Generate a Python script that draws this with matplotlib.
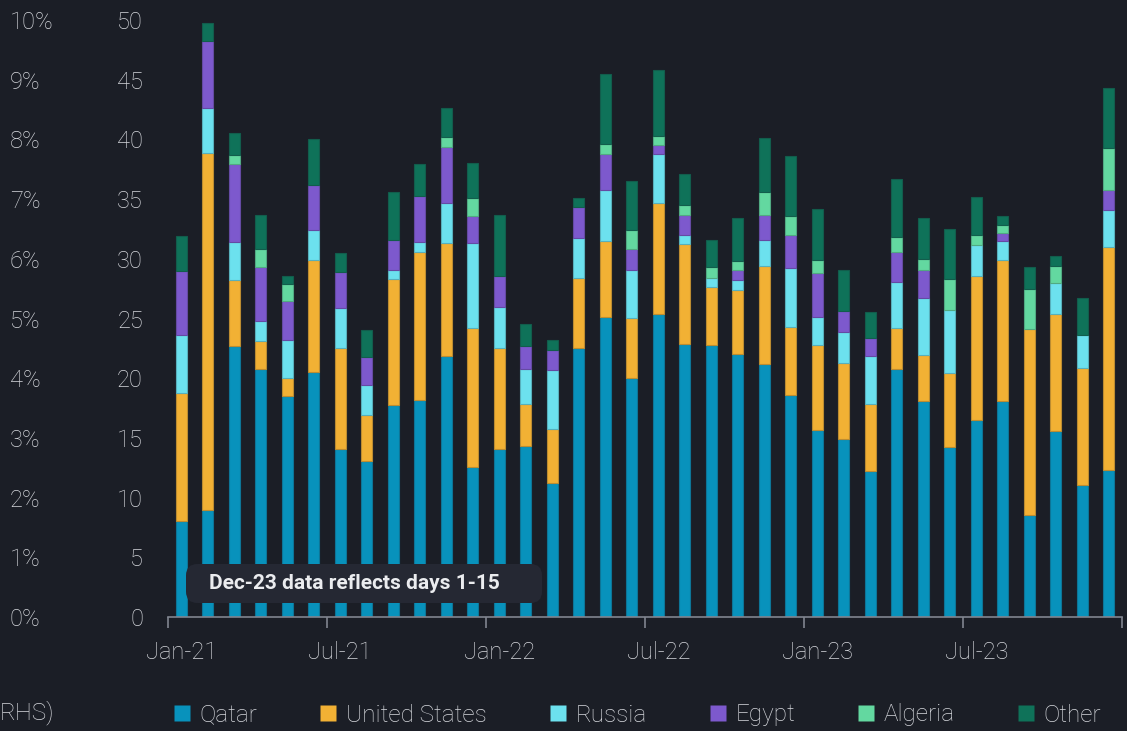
import numpy as np
import pandas as pd
import matplotlib
matplotlib.use('Agg')
import matplotlib.pyplot as plt
from matplotlib.lines import Line2D
from matplotlib.patches import FancyBboxPatch
from matplotlib.colors import to_rgb

# mesicni kategorie Jan-21 .. Dec-23
months = list(pd.date_range('2021-01-01', periods=36, freq='MS').strftime('%b-%y'))
tick_labels = ['Jan-21', 'Jul-21', 'Jan-22', 'Jul-22', 'Jan-23', 'Jul-23']

qatar = [8.0, 9.0, 22.7, 20.8, 18.5, 20.5, 14.1, 13.05, 17.75, 18.2, 21.9, 12.6,
         14.1, 14.3, 11.2, 22.55, 25.1, 20.0, 25.35, 22.9, 22.8, 22.05, 21.2, 18.6,
         15.65, 14.9, 12.25, 20.8, 18.1, 14.2, 16.5, 18.1, 8.55, 15.55, 11.05, 12.3]
united_states = [10.75, 29.9, 5.5, 2.35, 1.5, 9.4, 8.45, 3.85, 10.55, 12.4, 9.4, 11.6,
                 8.45, 3.5, 4.55, 5.85, 6.4, 5.05, 9.3, 8.3, 4.8, 5.35, 8.2, 5.65,
                 7.15, 6.4, 5.6, 3.4, 3.85, 6.25, 12.1, 11.8, 15.6, 9.85, 9.8, 18.7]
russia = [4.85, 3.7, 3.2, 1.65, 3.2, 2.5, 3.35, 2.5, 0.8, 0.8, 3.4, 7.1,
          3.4, 3.0, 4.95, 3.35, 4.25, 4.05, 4.15, 0.8, 0.8, 0.8, 2.2, 4.95,
          2.35, 2.6, 4.0, 3.85, 4.8, 5.25, 2.55, 1.6, 0.0, 2.55, 2.75, 3.1]
egypt = [5.4, 5.6, 6.55, 4.55, 3.3, 3.8, 3.0, 2.35, 2.5, 3.9, 4.7, 2.3,
         2.6, 1.9, 1.65, 2.6, 3.05, 1.7, 0.7, 1.7, 0.0, 0.85, 2.1, 2.8,
         3.65, 1.7, 1.55, 2.5, 2.35, 0.0, 0.0, 0.7, 0.0, 0.0, 0.0, 1.65]
algeria = [0.0, 0.0, 0.75, 1.5, 1.4, 0.0, 0.0, 0.0, 0.0, 0.0, 0.8, 1.5,
           0.0, 0.0, 0.0, 0.0, 0.8, 1.6, 0.8, 0.8, 0.9, 0.75, 1.9, 1.6,
           1.1, 0.0, 0.0, 1.25, 0.85, 2.65, 0.85, 0.6, 3.35, 1.45, 0.0, 3.55]
other = [2.9, 1.55, 1.8, 2.85, 0.7, 3.85, 1.6, 2.25, 4.0, 2.6, 2.4, 2.9,
         5.15, 1.8, 0.85, 0.75, 5.9, 4.1, 5.5, 2.6, 2.25, 3.6, 4.5, 5.05,
         4.25, 3.5, 2.15, 4.9, 3.45, 4.15, 3.15, 0.75, 1.8, 0.8, 3.1, 5.0]

series_names = ['Qatar', 'United States', 'Russia', 'Egypt', 'Algeria', 'Other']
series_values = [qatar, united_states, russia, egypt, algeria, other]
colors = ['#0892bc', '#f2b134', '#6ce1ee', '#7d59cd', '#63d8a0', '#0f7259']

bg = '#1b1e26'
txt = '#d6d8dd'
spine = '#80858f'

plt.rcParams['font.family'] = ['Roboto', 'DejaVu Sans']

fig = plt.figure(figsize=(11.27, 7.31), dpi=100, facecolor=bg)
ax = fig.add_axes([168 / 1127, 114 / 731, 954 / 1127, 597 / 731])
ax.set_facecolor(bg)

def darker(c, f=0.75):
    r, g, b = to_rgb(c)
    br, bgc, bb = to_rgb(bg)
    return (r * f + br * (1 - f), g * f + bgc * (1 - f), b * f + bb * (1 - f))

# skladane sloupce
x = np.arange(len(months))
bottom = np.zeros(len(months))
for name, vals, col in zip(series_names, series_values, colors):
    vals = np.array(vals)
    m = vals > 0
    ax.bar(x[m], vals[m], bottom=bottom[m], width=0.4, color=col,
           edgecolor=darker(col), linewidth=0.8, zorder=2)
    bottom += vals

ax.set_xlim(-0.5, len(months) - 0.5)
ax.set_ylim(0, 50)

for s in ['top', 'right', 'left']:
    ax.spines[s].set_visible(False)
ax.spines['bottom'].set_color(spine)
ax.spines['bottom'].set_linewidth(1.2)

# osa x - carky na hranicich, popisky pod sloupci
ax.set_xticks(np.arange(-0.5, len(months), 6))
ax.set_xticklabels([])
ax.tick_params(axis='x', which='major', length=8, width=1.2, color=spine)
ax.set_xticks([months.index(t) for t in tick_labels], minor=True)
ax.set_xticklabels(tick_labels, minor=True)
ax.tick_params(axis='x', which='minor', length=0, pad=17, labelsize=17,
               labelcolor=txt)
for lab in ax.get_xticklabels(minor=True):
    lab.set_fontweight('light')

ax.set_yticks(np.arange(0, 51, 5))
ax.tick_params(axis='y', length=0, pad=18, labelsize=17, labelcolor=txt)
for lab in ax.get_yticklabels():
    lab.set_fontweight('light')

# procentni osa uplne vlevo
ax2 = ax.twinx()
ax2.set_ylim(0, 10)
ax2.yaxis.tick_left()
ax2.set_yticks(np.arange(0, 11, 1))
ax2.set_yticklabels([f'{v}%' for v in range(0, 11)])
ax2.tick_params(axis='y', length=0, pad=114, labelsize=17, labelcolor=txt)
for lab in ax2.get_yticklabels():
    lab.set_horizontalalignment('left')
    lab.set_fontweight('light')
for s in ax2.spines.values():
    s.set_visible(False)

# poznamka
box = FancyBboxPatch((18 / 954, 14 / 597), 356 / 954, 39 / 597,
                     boxstyle='round,pad=0,rounding_size=0.012',
                     mutation_aspect=954 / 597, transform=ax.transAxes,
                     facecolor='#252833', edgecolor='none', zorder=5)
ax.add_patch(box)
ax.text(41 / 954, 33.5 / 597, 'Dec-23 data reflects days 1-15', transform=ax.transAxes,
        fontsize=15, fontweight='bold', color='#ebecef', va='center', ha='left', zorder=6)

# legenda
handles = [Line2D([], [], marker='s', linestyle='none', markersize=11,
                  markerfacecolor=c, markeredgecolor='none') for c in colors]
leg = fig.legend(handles, series_names, loc='center left',
                 bbox_to_anchor=(174 / 1127, 1 - 715 / 731), ncol=6, frameon=False,
                 fontsize=17.5, labelcolor=txt, handlelength=0.65, handletextpad=0.4,
                 columnspacing=2.6, borderpad=0, borderaxespad=0)
for t in leg.get_texts():
    t.set_fontweight('light')
fig.text(0.0, 1 - 713 / 731, 'RHS)', fontsize=17.5, color=txt, va='center', ha='left',
         fontweight='light')

fig.savefig('out.png', dpi=100, facecolor=bg)
